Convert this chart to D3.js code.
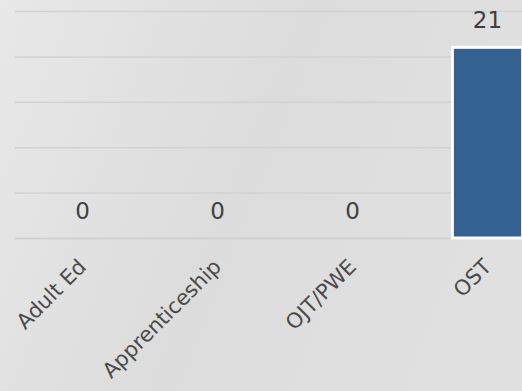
<!DOCTYPE html>
<html>
<head>
<meta charset="utf-8">
<script src="https://cdn.jsdelivr.net/npm/d3@7"></script>
<style>
  html, body { margin: 0; padding: 0; overflow: hidden; }
  svg { display: block; }
</style>
</head>
<body>
<svg id="chart" width="522" height="391"></svg>
<script>
// Program enrollment counts
const categories = ["Adult Ed", "Apprenticeship", "OJT/PWE", "OST"];
const values = [0, 0, 0, 21];
const yTicks = [0, 5, 10, 15, 20, 25];

const W = 522, H = 391;
const svg = d3.select("#chart");

// Soft gray backdrop
const defs = svg.append("defs");
const grad = defs.append("linearGradient")
  .attr("id", "bg").attr("x1", "0").attr("y1", "0").attr("x2", "1").attr("y2", "0.3");
grad.append("stop").attr("offset", "0").attr("stop-color", "#e8e8e8");
grad.append("stop").attr("offset", "0.55").attr("stop-color", "#dcdcdc");
grad.append("stop").attr("offset", "1").attr("stop-color", "#e0e0e0");
svg.append("rect").attr("width", W).attr("height", H).attr("fill", "url(#bg)");

// Plot area runs past the right edge of the view
const x = d3.scaleBand()
  .domain(categories)
  .range([15, 555])
  .paddingInner(0.48)
  .paddingOuter(0.24);

const y = d3.scaleLinear()
  .domain([0, 25])
  .range([238, 11]);

// Horizontal gridlines
const yAxis = d3.axisLeft(y)
  .tickValues(yTicks)
  .tickSize(-(555 - 15))
  .tickFormat("");
const gy = svg.append("g").attr("transform", "translate(15,0)").call(yAxis);
gy.select(".domain").remove();
gy.selectAll(".tick line")
  .attr("stroke", "#d2d2d2")
  .attr("stroke-width", 1.5);

// Category axis
const xAxis = d3.axisBottom(x).tickSize(0).tickPadding(0);
const gx = svg.append("g").attr("transform", `translate(0,${y(0)})`).call(xAxis);
gx.select(".domain").attr("stroke", "#cfcfcf").attr("stroke-width", 1.5);
gx.selectAll(".tick text")
  .attr("font-family", "'DejaVu Sans', sans-serif")
  .attr("font-size", 21)
  .attr("fill", "#4a4a4a")
  .attr("text-anchor", "end")
  .attr("dy", 0)
  .attr("y", 0)
  .attr("transform", "translate(5,30) rotate(-45)");

// Bars
svg.append("g").selectAll("rect")
  .data(categories.map((c, i) => ({ c, v: values[i] })))
  .join("rect")
  .attr("x", d => x(d.c))
  .attr("y", d => y(d.v))
  .attr("width", x.bandwidth())
  .attr("height", d => y(0) - y(d.v))
  .attr("fill", "#336290")
  .attr("stroke", "#ffffff")
  .attr("stroke-width", d => d.v > 0 ? 3 : 0);

// Value labels
svg.append("g").selectAll("text")
  .data(categories.map((c, i) => ({ c, v: values[i] })))
  .join("text")
  .attr("x", d => x(d.c) + x.bandwidth() / 2)
  .attr("y", d => y(d.v) - 19)
  .attr("text-anchor", "middle")
  .attr("font-family", "'DejaVu Sans', sans-serif")
  .attr("font-size", 23)
  .attr("fill", "#404040")
  .text(d => d.v);
</script>
</body>
</html>
